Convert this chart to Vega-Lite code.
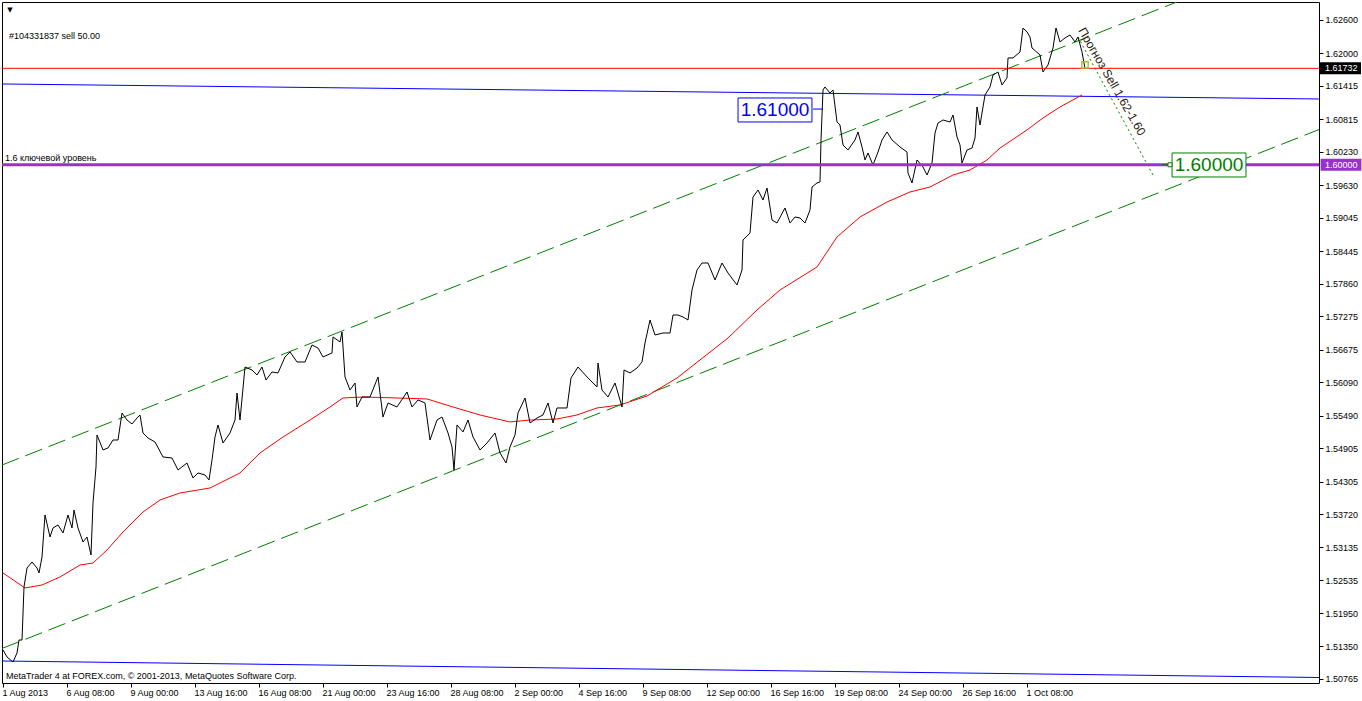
{
"$schema": "https://vega.github.io/schema/vega-lite/v6.json",
"width": 1317, "height": 681,
"autosize": {"type": "none"},
"padding": {"left": 2, "top": 2, "right": 43, "bottom": 18},
"background": "white",
"config": {"view": {"stroke": "black", "strokeWidth": 1}, "font": "Liberation Sans"},
"datasets": {
"price": [
{"bar":1,"price":1.51286},{"bar":5,"price":1.5116},{"bar":11,"price":1.5107},{"bar":15,"price":1.51232},{"bar":17,"price":1.51465},{"bar":20,"price":1.51465},{"bar":22,"price":1.52417},{"bar":25,"price":1.52758},{"bar":30,"price":1.52866},{"bar":35,"price":1.52758},{"bar":37,"price":1.52669},{"bar":40,"price":1.52956},{"bar":43,"price":1.5371},{"bar":48,"price":1.53315},{"bar":51,"price":1.53477},{"bar":56,"price":1.53531},{"bar":61,"price":1.53387},{"bar":66,"price":1.5371},{"bar":70,"price":1.53477},{"bar":72,"price":1.538},{"bar":76,"price":1.53477},{"bar":81,"price":1.53225},{"bar":85,"price":1.53315},{"bar":89,"price":1.52992},{"bar":91,"price":1.53926},{"bar":94,"price":1.54572},{"bar":95,"price":1.55147},{"bar":101,"price":1.54878},{"bar":106,"price":1.54914},{"bar":111,"price":1.55057},{"bar":116,"price":1.55057},{"bar":120,"price":1.55542},{"bar":125,"price":1.55416},{"bar":130,"price":1.55345},{"bar":135,"price":1.55452},{"bar":138,"price":1.55506},{"bar":141,"price":1.55183},{"bar":146,"price":1.55093},{"bar":153,"price":1.55021},{"bar":161,"price":1.54752},{"bar":170,"price":1.54734},{"bar":176,"price":1.54518},{"bar":185,"price":1.54644},{"bar":191,"price":1.54375},{"bar":196,"price":1.54465},{"bar":203,"price":1.54429},{"bar":207,"price":1.54339},{"bar":210,"price":1.54698},{"bar":213,"price":1.55111},{"bar":216,"price":1.55327},{"bar":221,"price":1.55003},{"bar":228,"price":1.55183},{"bar":233,"price":1.55416},{"bar":235,"price":1.55901},{"bar":238,"price":1.55416},{"bar":243,"price":1.56368},{"bar":250,"price":1.56314},{"bar":255,"price":1.56225},{"bar":260,"price":1.56368},{"bar":264,"price":1.56135},{"bar":270,"price":1.56278},{"bar":276,"price":1.56261},{"bar":283,"price":1.56548},{"bar":288,"price":1.56638},{"bar":295,"price":1.56458},{"bar":303,"price":1.56458},{"bar":310,"price":1.56763},{"bar":316,"price":1.56709},{"bar":321,"price":1.56548},{"bar":330,"price":1.5662},{"bar":331,"price":1.56907},{"bar":338,"price":1.56817},{"bar":340,"price":1.56997},{"bar":343,"price":1.56189},{"bar":348,"price":1.55955},{"bar":353,"price":1.56081},{"bar":355,"price":1.5565},{"bar":360,"price":1.55829},{"bar":368,"price":1.55829},{"bar":376,"price":1.56189},{"bar":381,"price":1.5547},{"bar":386,"price":1.55722},{"bar":395,"price":1.5565},{"bar":405,"price":1.55919},{"bar":410,"price":1.5565},{"bar":416,"price":1.55776},{"bar":423,"price":1.55722},{"bar":428,"price":1.55057},{"bar":435,"price":1.55416},{"bar":440,"price":1.5547},{"bar":446,"price":1.55183},{"bar":450,"price":1.54932},{"bar":452,"price":1.54518},{"bar":455,"price":1.55327},{"bar":461,"price":1.55201},{"bar":466,"price":1.55416},{"bar":471,"price":1.55111},{"bar":478,"price":1.54878},{"bar":485,"price":1.55003},{"bar":493,"price":1.55183},{"bar":498,"price":1.54824},{"bar":504,"price":1.54644},{"bar":508,"price":1.54932},{"bar":513,"price":1.55147},{"bar":516,"price":1.55542},{"bar":523,"price":1.55812},{"bar":528,"price":1.55363},{"bar":535,"price":1.55452},{"bar":541,"price":1.55506},{"bar":546,"price":1.55722},{"bar":551,"price":1.55363},{"bar":555,"price":1.55632},{"bar":565,"price":1.55632},{"bar":569,"price":1.56171},{"bar":576,"price":1.56368},{"bar":586,"price":1.56171},{"bar":595,"price":1.56009},{"bar":596,"price":1.5644},{"bar":600,"price":1.55955},{"bar":606,"price":1.55829},{"bar":613,"price":1.56081},{"bar":618,"price":1.55776},{"bar":620,"price":1.5565},{"bar":622,"price":1.56314},{"bar":628,"price":1.56261},{"bar":635,"price":1.5635},{"bar":640,"price":1.56458},{"bar":643,"price":1.56799},{"bar":648,"price":1.57212},{"bar":653,"price":1.56943},{"bar":661,"price":1.56979},{"bar":668,"price":1.56979},{"bar":671,"price":1.57302},{"bar":676,"price":1.57302},{"bar":681,"price":1.57266},{"bar":686,"price":1.57212},{"bar":690,"price":1.57751},{"bar":695,"price":1.5811},{"bar":700,"price":1.58236},{"bar":706,"price":1.58236},{"bar":713,"price":1.57931},{"bar":720,"price":1.58236},{"bar":726,"price":1.58056},{"bar":735,"price":1.57841},{"bar":740,"price":1.5811},{"bar":741,"price":1.58649},{"bar":748,"price":1.58775},{"bar":751,"price":1.59421},{"bar":756,"price":1.59547},{"bar":761,"price":1.59367},{"bar":765,"price":1.59583},{"bar":770,"price":1.59008},{"bar":775,"price":1.58954},{"bar":783,"price":1.59224},{"bar":788,"price":1.58954},{"bar":793,"price":1.59062},{"bar":798,"price":1.59044},{"bar":803,"price":1.58954},{"bar":808,"price":1.59188},{"bar":810,"price":1.59601},{"bar":815,"price":1.59673},{"bar":818,"price":1.59691},{"bar":819,"price":1.60445},{"bar":821,"price":1.61343},{"bar":823,"price":1.61397},{"bar":828,"price":1.61289},{"bar":831,"price":1.61343},{"bar":835,"price":1.60768},{"bar":838,"price":1.60714},{"bar":841,"price":1.60355},{"bar":846,"price":1.60265},{"bar":853,"price":1.60445},{"bar":856,"price":1.60589},{"bar":860,"price":1.60319},{"bar":863,"price":1.60086},{"bar":866,"price":1.60211},{"bar":871,"price":1.59996},{"bar":876,"price":1.60229},{"bar":880,"price":1.60445},{"bar":885,"price":1.60589},{"bar":890,"price":1.60445},{"bar":898,"price":1.60319},{"bar":905,"price":1.60229},{"bar":906,"price":1.59852},{"bar":910,"price":1.59673},{"bar":915,"price":1.60086},{"bar":921,"price":1.5996},{"bar":925,"price":1.59816},{"bar":930,"price":1.60032},{"bar":933,"price":1.60571},{"bar":936,"price":1.6075},{"bar":941,"price":1.60804},{"bar":948,"price":1.60768},{"bar":951,"price":1.60894},{"bar":955,"price":1.60499},{"bar":958,"price":1.60355},{"bar":960,"price":1.60032},{"bar":965,"price":1.60265},{"bar":970,"price":1.60301},{"bar":973,"price":1.60481},{"bar":975,"price":1.61038},{"bar":978,"price":1.60714},{"bar":983,"price":1.61253},{"bar":988,"price":1.61397},{"bar":991,"price":1.61612},{"bar":996,"price":1.61666},{"bar":1000,"price":1.61433},{"bar":1005,"price":1.61558},{"bar":1006,"price":1.61918},{"bar":1011,"price":1.61918},{"bar":1018,"price":1.62025},{"bar":1021,"price":1.62456},{"bar":1025,"price":1.62385},{"bar":1028,"price":1.62295},{"bar":1030,"price":1.62097},{"bar":1038,"price":1.61971},{"bar":1041,"price":1.61666},{"bar":1046,"price":1.61792},{"bar":1051,"price":1.62097},{"bar":1054,"price":1.62456},{"bar":1058,"price":1.62205},{"bar":1063,"price":1.62277},{"bar":1068,"price":1.62331},{"bar":1073,"price":1.62205},{"bar":1076,"price":1.62295},{"bar":1080,"price":1.62025},{"bar":1083,"price":1.61732}
],
"ma": [
{"bar":1,"price":1.52669},{"bar":23,"price":1.52399},{"bar":40,"price":1.52453},{"bar":58,"price":1.52597},{"bar":78,"price":1.52812},{"bar":91,"price":1.52848},{"bar":105,"price":1.53082},{"bar":121,"price":1.53405},{"bar":141,"price":1.53764},{"bar":158,"price":1.5398},{"bar":178,"price":1.54105},{"bar":208,"price":1.54195},{"bar":238,"price":1.54465},{"bar":258,"price":1.54824},{"bar":281,"price":1.55111},{"bar":308,"price":1.55416},{"bar":328,"price":1.5565},{"bar":341,"price":1.55812},{"bar":361,"price":1.55829},{"bar":395,"price":1.55812},{"bar":425,"price":1.55794},{"bar":451,"price":1.5565},{"bar":478,"price":1.55506},{"bar":508,"price":1.55381},{"bar":528,"price":1.55416},{"bar":555,"price":1.55434},{"bar":575,"price":1.55506},{"bar":595,"price":1.55632},{"bar":618,"price":1.55686},{"bar":645,"price":1.55847},{"bar":675,"price":1.56171},{"bar":726,"price":1.56889},{"bar":755,"price":1.57392},{"bar":778,"price":1.57751},{"bar":815,"price":1.58164},{"bar":835,"price":1.58703},{"bar":858,"price":1.59062},{"bar":885,"price":1.59331},{"bar":908,"price":1.59511},{"bar":928,"price":1.59601},{"bar":951,"price":1.59816},{"bar":968,"price":1.59906},{"bar":985,"price":1.60086},{"bar":998,"price":1.60301},{"bar":1025,"price":1.60625},{"bar":1041,"price":1.6084},{"bar":1058,"price":1.61038},{"bar":1080,"price":1.61253}
],
"trend": [
{"line":"blueTop","bar":0,"price":1.61451},{"line":"blueTop","bar":1317,"price":1.61181},
{"line":"blueBot","bar":0,"price":1.51088},{"line":"blueBot","bar":1317,"price":1.50792},
{"line":"chanUp","bar":0,"price":1.54608},{"line":"chanUp","bar":1317,"price":1.63929},
{"line":"chanLo","bar":0,"price":1.51313},{"line":"chanLo","bar":1317,"price":1.60632},
{"line":"forecast","bar":1076,"price":1.62295},{"line":"forecast","bar":1151,"price":1.59816},
{"line":"conn61","bar":811,"price":1.61000},{"line":"conn61","bar":821,"price":1.61000},
{"line":"conn60","bar":1160,"price":1.60000},{"line":"conn60","bar":1170,"price":1.60000},
{"line":"stop","bar":0,"price":1.61732},{"line":"stop","bar":1317,"price":1.61732},
{"line":"key","bar":0,"price":1.60000},{"line":"key","bar":1317,"price":1.60000}
]
},
"encoding": {
"x": {"field": "bar", "type": "quantitative", "scale": {"domain": [0, 1317], "nice": false, "zero": false},
"axis": {"orient": "bottom", "title": null, "domain": false, "grid": false, "tickColor": "black", "tickSize": 4,
"values": [1,65,129,193,257,321,385,449,513,577,641,705,769,833,897,961,1025],
"labelExpr": "['1 Aug 2013','6 Aug 08:00','9 Aug 00:00','13 Aug 16:00','16 Aug 08:00','21 Aug 00:00','23 Aug 16:00','28 Aug 08:00','2 Sep 00:00','4 Sep 16:00','9 Sep 08:00','12 Sep 00:00','16 Sep 16:00','19 Sep 08:00','24 Sep 00:00','26 Sep 16:00','1 Oct 08:00'][round((datum.value-1)/64)]",
"labelAlign": "left", "labelOffset": -1, "labelPadding": 1, "labelFont": "Liberation Sans", "labelFontSize": 9, "labelColor": "black",
"labelOverlap": false, "labelFlush": false, "labelBound": false}},
"y": {"field": "price", "type": "quantitative", "scale": {"domain": [1.50693, 1.62923], "nice": false, "zero": false},
"axis": {"orient": "right", "title": null, "domain": false, "grid": false, "tickColor": "black", "tickSize": 4,
"values": [1.626,1.62,1.61415,1.60815,1.6023,1.5963,1.59045,1.58445,1.5786,1.57275,1.56675,1.5609,1.5549,1.54905,1.54305,1.5372,1.53135,1.52535,1.5195,1.5135,1.50765],
"format": ".5f", "labelPadding": 2, "labelFont": "Liberation Sans", "labelFontSize": 9, "labelColor": "black",
"labelOverlap": false, "labelFlush": false, "labelBound": false}}
},
"layer": [
{
"data": {"name": "trend"},
"transform": [{"filter": "datum.line === 'blueTop' || datum.line === 'blueBot'"}],
"mark": {"type": "line", "color": "#0000ff", "strokeWidth": 1},
"encoding": {"detail": {"field": "line"}}
},
{
"data": {"name": "trend"},
"transform": [{"filter": "datum.line === 'chanUp' || datum.line === 'chanLo'"}],
"mark": {"type": "line", "color": "#008000", "strokeWidth": 1, "strokeDash": [18, 7], "clip": true},
"encoding": {"detail": {"field": "line"}}
},
{
"data": {"name": "trend"},
"transform": [{"filter": "datum.line === 'forecast'"}],
"mark": {"type": "line", "color": "#008000", "strokeWidth": 1, "strokeDash": [2, 3]},
"encoding": {}
},
{
"data": {"name": "ma"},
"mark": {"type": "line", "color": "#ff0000", "strokeWidth": 1},
"encoding": {}
},
{
"data": {"name": "price"},
"mark": {"type": "line", "color": "#000000", "strokeWidth": 1},
"encoding": {}
},
{
"data": {"name": "trend"},
"transform": [{"filter": "datum.line === 'stop'"}],
"mark": {"type": "line", "color": "#ff0000", "strokeWidth": 1},
"encoding": {}
},
{
"data": {"name": "trend"},
"transform": [{"filter": "datum.line === 'key'"}],
"mark": {"type": "line", "color": "#9932cc", "strokeWidth": 3},
"encoding": {}
},
{
"data": {"name": "trend"},
"transform": [{"filter": "datum.line === 'conn61'"}],
"mark": {"type": "line", "color": "#0000ff", "strokeWidth": 1},
"encoding": {}
},
{
"data": {"name": "trend"},
"transform": [{"filter": "datum.line === 'conn60'"}],
"mark": {"type": "line", "color": "#008000", "strokeWidth": 1},
"encoding": {}
},
{
"data": {"values": [{"bar": 773, "price": 1.60984, "label": "1.61000"}]},
"mark": {"type": "point", "shape": "M-3.08,-1H3.08V1H-3.08Z", "size": 576, "filled": true, "fill": "white", "stroke": "#0000ff", "strokeWidth": 1, "opacity": 1}
},
{
"data": {"values": [{"bar": 773, "price": 1.60984, "label": "1.61000"}]},
"mark": {"type": "text", "font": "Liberation Sans", "fontSize": 19, "color": "#0000ff", "align": "center", "baseline": "middle"},
"encoding": {"text": {"field": "label"}}
},
{
"data": {"values": [{"bar": 1207, "price": 1.59996, "label": "1.60000"}]},
"mark": {"type": "point", "shape": "M-3.08,-1H3.08V1H-3.08Z", "size": 576, "filled": true, "fill": "white", "stroke": "#008000", "strokeWidth": 1, "opacity": 1}
},
{
"data": {"values": [{"bar": 1207, "price": 1.59996, "label": "1.60000"}]},
"mark": {"type": "text", "font": "Liberation Sans", "fontSize": 19, "color": "#008000", "align": "center", "baseline": "middle"},
"encoding": {"text": {"field": "label"}}
},
{
"data": {"values": [{"bar": 1110, "price": 1.61496, "label": "Прогноз Sell 1.62-1.60"}]},
"mark": {"type": "text", "font": "Liberation Sans", "fontSize": 12, "color": "#2a2010", "align": "center", "baseline": "middle", "angle": 60},
"encoding": {"text": {"field": "label"}}
},
{
"data": {"values": [{"bar": 1083, "price": 1.61795}]},
"mark": {"type": "point", "shape": "square", "size": 40, "filled": false, "stroke": "#a8c040", "strokeWidth": 1.5, "opacity": 1}
},
{
"data": {"values": [{"bar": 1168, "price": 1.60000}]},
"mark": {"type": "point", "shape": "square", "size": 16, "filled": true, "fill": "white", "stroke": "#008000", "strokeWidth": 1, "opacity": 1}
},
{
"data": {"values": [
{"bar": 7, "price": 1.62313, "label": "#104331837 sell 50.00"},
{"bar": 3, "price": 1.60122, "label": "1.6 ключевой уровень"},
{"bar": 4, "price": 1.50824, "label": "MetaTrader 4 at FOREX.com, © 2001-2013, MetaQuotes Software Corp."}
]},
"mark": {"type": "text", "font": "Liberation Sans", "fontSize": 9, "color": "black", "align": "left", "baseline": "middle"},
"encoding": {"text": {"field": "label"}}
},
{
"data": {"values": [{"bar": 8, "price": 1.62771, "label": "▼"}]},
"mark": {"type": "text", "font": "DejaVu Sans", "fontSize": 7, "color": "black", "align": "center", "baseline": "middle"},
"encoding": {"text": {"field": "label"}}
},
{
"data": {"values": [{"bar": 1338, "price": 1.61732}]},
"mark": {"type": "point", "shape": "M-3.5,-1H3.5V1H-3.5Z", "size": 144, "filled": true, "fill": "black", "strokeWidth": 0, "opacity": 1}
},
{
"data": {"values": [{"bar": 1339, "price": 1.60000}]},
"mark": {"type": "point", "shape": "M-3.4,-1H3.4V1H-3.4Z", "size": 144, "filled": true, "fill": "#9932cc", "strokeWidth": 0, "opacity": 1}
},
{
"data": {"values": [{"bar": 1323, "price": 1.61732, "label": "1.61732"}, {"bar": 1323, "price": 1.60000, "label": "1.60000"}]},
"mark": {"type": "text", "font": "Liberation Sans", "fontSize": 9, "color": "white", "align": "left", "baseline": "middle"},
"encoding": {"text": {"field": "label"}}
}
]
}
